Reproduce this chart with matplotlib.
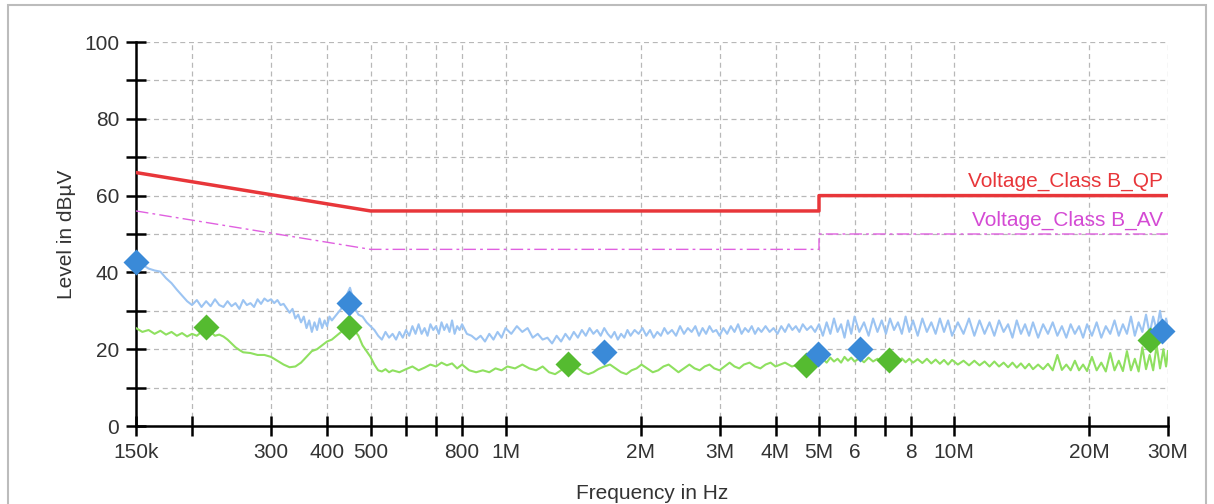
import numpy as np
import matplotlib
matplotlib.use("Agg")
import matplotlib.pyplot as plt
from matplotlib.ticker import NullLocator, MultipleLocator, FuncFormatter
from matplotlib.patches import Rectangle

plt.rcParams['font.family'] = ['Liberation Sans', 'DejaVu Sans']

# limit lines (MHz, dBuV)
qp_f = [0.15, 0.5, 5, 5, 30]
qp_lvl = [66, 56, 56, 60, 60]
av_f = [0.15, 0.5, 5, 5, 30]
av_lvl = [56, 46, 46, 50, 50]

# peak trace (MHz, dBuV)
peak = [
    (0.150, 42.5), (0.155, 42.0), (0.160, 41.0), (0.165, 40.5), (0.170, 40.2), (0.175, 38.5),
    (0.180, 37.2), (0.185, 35.5), (0.190, 34.0), (0.195, 32.5), (0.200, 31.5), (0.205, 32.8),
    (0.210, 31.0), (0.215, 32.5), (0.220, 31.2), (0.225, 33.0), (0.230, 31.5), (0.235, 31.0),
    (0.240, 32.5), (0.245, 31.2), (0.250, 32.0), (0.255, 30.5), (0.260, 32.8), (0.265, 31.5),
    (0.270, 32.0), (0.275, 31.0), (0.280, 33.0), (0.285, 31.8), (0.290, 33.2), (0.295, 32.5),
    (0.300, 33.0), (0.305, 32.0), (0.310, 32.8), (0.315, 31.5), (0.320, 31.8), (0.330, 29.5),
    (0.335, 30.5), (0.340, 28.0), (0.345, 29.0), (0.350, 27.0), (0.355, 28.5), (0.360, 25.5),
    (0.365, 27.5), (0.370, 24.5), (0.375, 27.0), (0.380, 25.0), (0.385, 28.0), (0.390, 25.5),
    (0.395, 27.5), (0.400, 26.0), (0.405, 28.5), (0.410, 27.5), (0.420, 29.0), (0.430, 30.5),
    (0.440, 33.5), (0.450, 36.0), (0.455, 34.0), (0.460, 31.0), (0.470, 29.0), (0.480, 28.5),
    (0.490, 27.0), (0.500, 26.0), (0.510, 25.0), (0.520, 23.5), (0.530, 22.5), (0.540, 24.5),
    (0.550, 23.0), (0.560, 24.0), (0.570, 22.5), (0.580, 24.5), (0.590, 23.0), (0.600, 25.0),
    (0.610, 23.5), (0.620, 26.0), (0.630, 24.0), (0.640, 26.5), (0.650, 24.0), (0.660, 25.5),
    (0.670, 23.5), (0.680, 26.5), (0.690, 25.0), (0.700, 26.0), (0.710, 24.0), (0.720, 27.0),
    (0.730, 25.0), (0.740, 26.5), (0.750, 24.5), (0.760, 27.5), (0.770, 24.0), (0.780, 26.0),
    (0.790, 25.0), (0.800, 26.5), (0.820, 24.0), (0.840, 23.5), (0.860, 22.5), (0.880, 23.5),
    (0.900, 22.0), (0.920, 24.0), (0.940, 22.5), (0.960, 24.5), (0.980, 23.0), (1.00, 25.5),
    (1.03, 24.0), (1.06, 26.0), (1.09, 24.5), (1.12, 25.5), (1.15, 23.0), (1.18, 24.0),
    (1.21, 22.5), (1.24, 23.0), (1.27, 21.5), (1.30, 23.5), (1.33, 22.0), (1.36, 24.0),
    (1.39, 22.5), (1.42, 24.5), (1.45, 23.0), (1.48, 25.0), (1.51, 23.5), (1.54, 25.5),
    (1.57, 24.0), (1.60, 25.0), (1.63, 23.5), (1.66, 25.5), (1.69, 24.0), (1.72, 23.0),
    (1.75, 24.5), (1.78, 22.5), (1.81, 24.0), (1.84, 23.0), (1.87, 25.0), (1.90, 23.5),
    (1.94, 25.0), (1.98, 24.0), (2.02, 25.5), (2.06, 23.5), (2.10, 25.0), (2.14, 23.0),
    (2.18, 24.5), (2.22, 23.5), (2.26, 25.5), (2.30, 24.0), (2.35, 25.0), (2.40, 23.5),
    (2.45, 26.0), (2.50, 24.0), (2.55, 25.5), (2.60, 24.5), (2.65, 26.0), (2.70, 23.5),
    (2.75, 25.5), (2.80, 24.0), (2.85, 26.0), (2.90, 24.5), (2.95, 25.0), (3.00, 23.5),
    (3.06, 25.5), (3.12, 24.0), (3.18, 26.0), (3.24, 24.5), (3.30, 26.5), (3.36, 24.0),
    (3.42, 25.5), (3.48, 24.5), (3.54, 26.0), (3.60, 24.0), (3.66, 25.5), (3.72, 24.5),
    (3.80, 26.0), (3.88, 24.5), (3.96, 25.5), (4.04, 24.0), (4.12, 26.0), (4.20, 24.5),
    (4.28, 26.5), (4.36, 25.0), (4.44, 26.0), (4.52, 24.5), (4.60, 26.5), (4.70, 25.0),
    (4.80, 26.0), (4.90, 24.5), (5.00, 26.5),
    (5.1, 23.5), (5.2, 27.0), (5.3, 24.0), (5.4, 28.0), (5.5, 24.5), (5.6, 26.5), (5.7, 23.0),
    (5.8, 27.5), (5.9, 24.0), (6.0, 28.5), (6.15, 24.5), (6.3, 27.0), (6.45, 23.5), (6.6, 28.0),
    (6.75, 24.5), (6.9, 27.5), (7.05, 24.0), (7.2, 28.0), (7.35, 25.0), (7.5, 27.0), (7.65, 24.0),
    (7.8, 28.5), (7.95, 24.5), (8.1, 27.5), (8.3, 23.5), (8.5, 28.0), (8.7, 24.5), (8.9, 27.0),
    (9.1, 24.0), (9.3, 28.0), (9.5, 24.5), (9.7, 27.5), (9.9, 23.5), (10.2, 27.0), (10.5, 24.0),
    (10.8, 28.0), (11.1, 23.5), (11.4, 27.5), (11.7, 24.0), (12.0, 27.0), (12.3, 23.5),
    (12.6, 27.5), (12.9, 24.5), (13.2, 26.5), (13.5, 23.0), (13.8, 27.5), (14.1, 24.0),
    (14.4, 26.5), (14.7, 23.5), (15.0, 27.0), (15.4, 23.0), (15.8, 26.5), (16.2, 24.0),
    (16.6, 27.0), (17.0, 23.5), (17.4, 26.0), (17.8, 23.0), (18.2, 26.5), (18.6, 24.0),
    (19.0, 26.0), (19.4, 23.0), (19.8, 26.5), (20.3, 23.5), (20.8, 27.0), (21.3, 23.0),
    (21.8, 26.0), (22.3, 24.0), (22.8, 27.5), (23.3, 23.5), (23.8, 26.5), (24.3, 24.0),
    (24.8, 28.5), (25.3, 23.5), (25.8, 27.0), (26.3, 24.5), (26.8, 29.0), (27.3, 24.0),
    (27.8, 28.5), (28.3, 25.0), (28.8, 30.0), (29.3, 24.5), (29.7, 28.0), (30.0, 26.0),
]

# average trace
average = [
    (0.150, 25.5), (0.155, 24.5), (0.160, 25.0), (0.165, 24.0), (0.170, 24.8), (0.175, 23.8),
    (0.180, 24.5), (0.185, 23.5), (0.190, 24.2), (0.195, 23.3), (0.200, 24.0), (0.205, 23.5),
    (0.210, 24.5), (0.215, 25.5), (0.220, 24.5), (0.225, 23.5), (0.230, 23.8), (0.235, 23.3),
    (0.240, 22.5), (0.245, 21.5), (0.250, 20.5), (0.255, 19.8), (0.260, 19.2), (0.270, 19.0),
    (0.280, 18.5), (0.290, 18.5), (0.300, 18.0), (0.310, 17.0), (0.320, 16.0), (0.330, 15.3),
    (0.340, 15.5), (0.350, 16.5), (0.360, 18.0), (0.370, 19.5), (0.380, 20.0), (0.390, 21.0),
    (0.400, 22.0), (0.410, 22.5), (0.420, 23.5), (0.430, 24.5), (0.440, 25.5), (0.450, 26.3),
    (0.460, 25.0), (0.470, 23.5), (0.480, 21.0), (0.490, 19.5), (0.500, 18.0), (0.510, 16.0),
    (0.520, 14.5), (0.530, 14.2), (0.540, 14.8), (0.550, 14.0), (0.560, 14.5), (0.580, 14.0),
    (0.600, 14.8), (0.620, 15.5), (0.640, 14.5), (0.660, 15.2), (0.680, 16.0), (0.700, 15.5),
    (0.720, 16.5), (0.740, 15.8), (0.760, 16.3), (0.780, 15.0), (0.800, 16.0), (0.830, 14.5),
    (0.860, 14.0), (0.890, 14.5), (0.920, 14.0), (0.950, 15.0), (0.980, 14.5), (1.01, 15.5),
    (1.05, 15.0), (1.09, 16.0), (1.13, 15.0), (1.17, 14.5), (1.21, 15.5), (1.25, 14.0),
    (1.29, 13.5), (1.33, 14.5), (1.37, 15.5), (1.41, 16.0), (1.45, 15.0), (1.49, 14.0),
    (1.53, 13.5), (1.57, 14.0), (1.61, 14.8), (1.66, 15.5), (1.71, 16.0), (1.76, 15.0),
    (1.81, 14.0), (1.86, 13.5), (1.91, 14.5), (1.96, 15.0), (2.01, 16.0), (2.07, 15.0),
    (2.13, 14.0), (2.19, 14.5), (2.25, 15.5), (2.31, 16.0), (2.37, 15.0), (2.43, 14.0),
    (2.50, 15.0), (2.57, 16.0), (2.64, 15.0), (2.71, 14.5), (2.78, 15.5), (2.85, 16.0),
    (2.92, 15.0), (3.00, 14.5), (3.08, 15.5), (3.16, 16.5), (3.24, 15.5), (3.32, 15.0),
    (3.40, 16.0), (3.50, 16.5), (3.60, 15.5), (3.70, 15.0), (3.80, 16.0), (3.90, 16.5),
    (4.00, 15.5), (4.10, 16.0), (4.20, 16.5), (4.35, 15.5), (4.50, 16.0), (4.65, 16.5),
    (4.80, 16.0), (5.00, 16.8),
    (5.1, 17.5), (5.2, 16.5), (5.3, 17.8), (5.4, 16.8), (5.5, 17.5), (5.6, 16.5), (5.7, 18.0),
    (5.8, 17.0), (5.9, 17.8), (6.0, 16.8), (6.15, 17.6), (6.3, 16.6), (6.45, 17.8), (6.6, 16.8),
    (6.75, 17.5), (6.9, 16.5), (7.05, 17.8), (7.2, 16.8), (7.35, 17.5), (7.5, 16.5), (7.65, 17.6),
    (7.8, 16.6), (7.95, 17.5), (8.1, 16.5), (8.3, 17.4), (8.5, 16.4), (8.7, 17.5), (8.9, 16.3),
    (9.1, 17.3), (9.3, 16.2), (9.5, 17.2), (9.7, 16.0), (9.9, 17.2), (10.2, 16.0), (10.5, 17.0),
    (10.8, 15.8), (11.1, 17.0), (11.4, 15.8), (11.7, 16.8), (12.0, 15.5), (12.3, 16.8),
    (12.6, 15.5), (12.9, 16.5), (13.2, 15.3), (13.5, 16.5), (13.8, 15.2), (14.1, 16.3),
    (14.4, 15.0), (14.7, 16.2), (15.0, 14.8), (15.4, 16.0), (15.8, 14.8), (16.2, 16.2),
    (16.6, 14.5), (17.0, 18.5), (17.4, 14.6), (17.8, 16.0), (18.2, 14.5), (18.6, 17.0),
    (19.0, 14.5), (19.4, 16.0), (19.8, 14.3), (20.3, 18.0), (20.8, 14.5), (21.3, 16.5),
    (21.8, 14.2), (22.3, 19.0), (22.8, 14.5), (23.3, 17.0), (23.8, 14.3), (24.3, 19.5),
    (24.8, 14.5), (25.3, 17.5), (25.8, 14.2), (26.3, 20.5), (26.8, 14.8), (27.3, 18.5),
    (27.8, 14.5), (28.3, 21.0), (28.8, 15.0), (29.3, 20.0), (29.7, 15.5), (30.0, 19.5),
]

pk_mark_f = [0.15, 0.448, 1.66, 4.97, 6.17, 29.1]
pk_mark_lvl = [42.7, 32.1, 19.3, 18.7, 20.0, 24.7]
av_mark_f = [0.215, 0.448, 1.38, 4.68, 7.16, 27.4]
av_mark_lvl = [25.8, 25.8, 16.1, 15.9, 17.2, 22.4]

xticks = [0.15, 0.2, 0.3, 0.4, 0.5, 0.6, 0.7, 0.8, 1, 2, 3, 4, 5, 6, 7, 8, 10, 20, 30]
xlabels = ['150k', '', '300', '400', '500', '', '', '800', '1M', '2M', '3M', '4M',
           '5M', '6', '', '8', '10M', '20M', '30M']

pk_f, pk_lvl = zip(*peak)
avg_f, avg_lvl = zip(*average)

fig = plt.figure(figsize=(12.14, 5.04), dpi=100)
ax = fig.add_axes([136/1214, 1-426/504, (1168-136)/1214, (426-42)/504])

ax.plot(pk_f, pk_lvl, color='#9cc4f2', lw=1.5, zorder=3)
ax.plot(avg_f, avg_lvl, color='#8fe060', lw=1.5, zorder=3)
ax.plot(qp_f, qp_lvl, color='#e8363a', lw=2.5, zorder=4)
ax.plot(av_f, av_lvl, color='#e060e0', lw=1.0, linestyle=(0, (9, 3, 2, 3)), zorder=4)
ax.plot(pk_mark_f, pk_mark_lvl, 'D', color='#3a8ad8', ms=13, mec='none', zorder=6, clip_on=False)
ax.plot(av_mark_f, av_mark_lvl, 'D', color='#55bb30', ms=13, mec='none', zorder=5, clip_on=False)

ax.text(29.2, 61.3, 'Voltage_Class B_QP', color='#e8363a', fontsize=15, ha='right', va='bottom')
ax.text(29.2, 51.0, 'Voltage_Class B_AV', color='#d44ad4', fontsize=15, ha='right', va='bottom')

ax.set_xscale('log')
ax.set_xlim(0.15, 30)
ax.set_ylim(0, 100)
ax.xaxis.set_minor_locator(NullLocator())
ax.set_xticks(xticks)
ax.set_xticklabels(xlabels)
ax.yaxis.set_major_locator(MultipleLocator(10))
ax.yaxis.set_major_formatter(FuncFormatter(lambda v, p: f'{v:.0f}' if round(v) % 20 == 0 else ''))

ax.grid(True, color='#b8b8b8', linestyle=(0, (4, 3)), linewidth=0.9, zorder=0)
for s in ['top', 'right']:
    ax.spines[s].set_visible(False)
for s in ['left', 'bottom']:
    ax.spines[s].set_linewidth(1.8)
ax.tick_params(direction='inout', length=14, width=1.8, labelsize=15, labelcolor='#333333', pad=5)

ax.set_xlabel('Frequency in Hz', fontsize=15, color='#333333', labelpad=16)
ax.set_ylabel('Level in dBµV', fontsize=15, color='#333333', labelpad=6)

fig.add_artist(Rectangle((8/1214, -0.02), (1206-8)/1214, 1.02-5/504, transform=fig.transFigure,
                         fill=False, edgecolor='#bcbcbc', lw=1.5))

fig.savefig('out.png', dpi=100)
